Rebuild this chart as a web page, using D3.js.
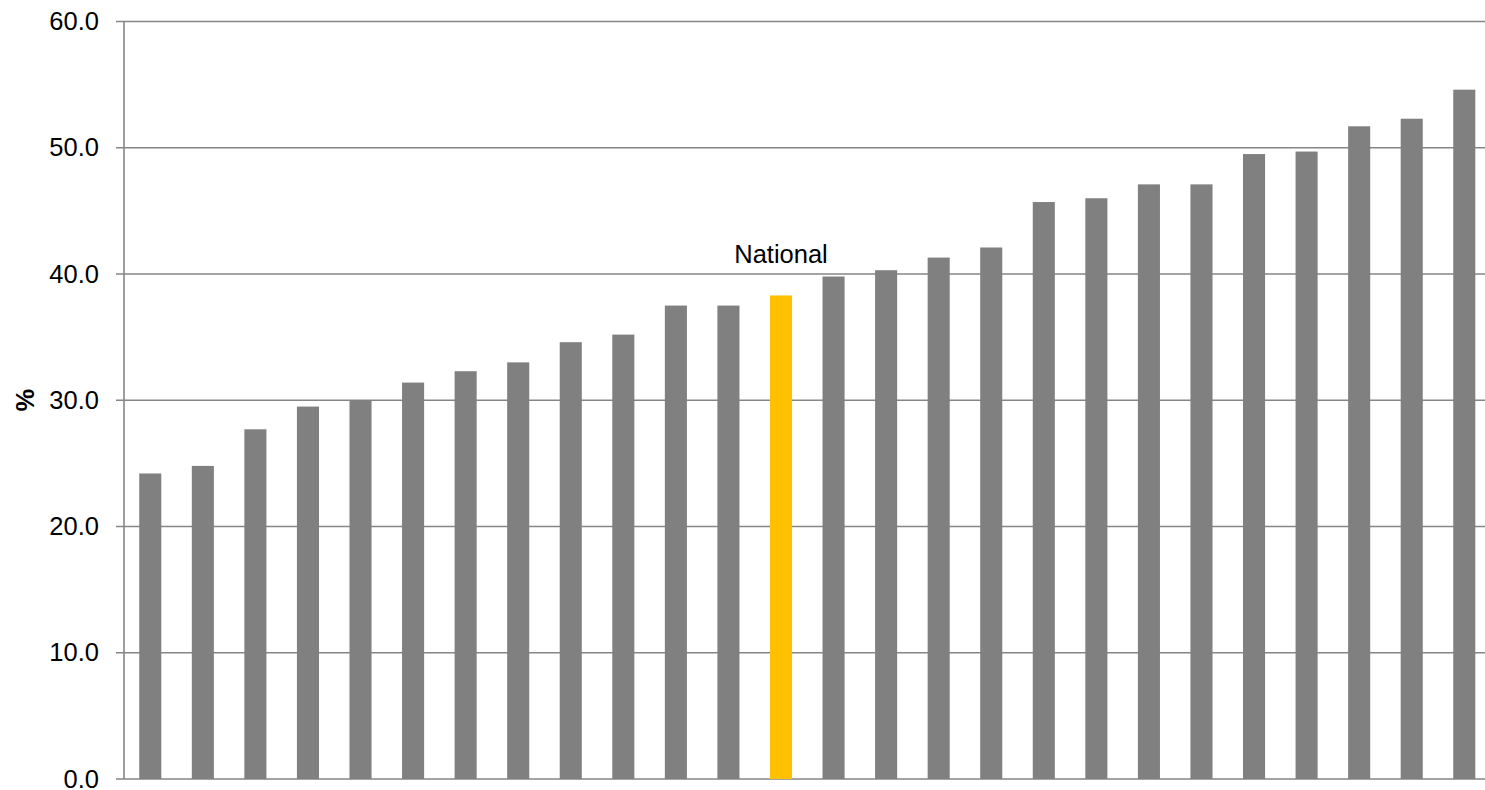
<!DOCTYPE html>
<html>
<head>
<meta charset="utf-8">
<script src="https://cdn.jsdelivr.net/npm/d3@7"></script>
<style>
  html, body { margin: 0; padding: 0; background: #fff; }
  svg { display: block; }
</style>
</head>
<body>
<svg id="chart" width="1485" height="790"></svg>
<script>
// Data
const categories = ["A1","A2","A3","A4","A5","A6","A7","A8","A9","A10","A11","A12","National",
                    "A14","A15","A16","A17","A18","A19","A20","A21","A22","A23","A24","A25","A26"];
const values = [24.2, 24.8, 27.7, 29.5, 30.0, 31.4, 32.3, 33.0, 34.6, 35.2, 37.5, 37.5, 38.3,
                39.8, 40.3, 41.3, 42.1, 45.7, 46.0, 47.1, 47.1, 49.5, 49.7, 51.7, 52.3, 54.6];
const highlightCategory = "National";
const yTicks = [0, 10, 20, 30, 40, 50, 60];
const yLabel = "%";

const data = categories.map((c, i) => ({ cat: c, value: values[i] }));

const svg = d3.select("#chart");
const W = 1485, H = 790;
const x0 = 124, step = 52.56, n = categories.length;
const yTop = 21.5, yBottom = 779;

const x = d3.scaleBand()
  .domain(categories)
  .range([x0, x0 + step * n])
  .paddingInner(0.58)
  .paddingOuter(0.29);

const y = d3.scaleLinear().domain([0, 60]).range([yBottom, yTop]);

const font = "Liberation Sans, Arial, sans-serif";
const gridColor = "#868686";

// Gridlines (with outward ticks)
svg.append("g")
  .selectAll("line")
  .data(yTicks)
  .join("line")
  .attr("x1", x0 - 8)
  .attr("x2", W)
  .attr("y1", d => y(d))
  .attr("y2", d => y(d))
  .attr("stroke", gridColor)
  .attr("stroke-width", 1.6);

// Left axis line
svg.append("line")
  .attr("x1", x0).attr("x2", x0)
  .attr("y1", yTop).attr("y2", yBottom)
  .attr("stroke", gridColor)
  .attr("stroke-width", 1.6);

// Tick labels via d3 axis
const yAxis = d3.axisLeft(y)
  .tickValues(yTicks)
  .tickFormat(d3.format(".1f"))
  .tickSize(0)
  .tickPadding(25);

const gAxis = svg.append("g")
  .attr("transform", `translate(${x0},0)`)
  .call(yAxis);
gAxis.select(".domain").remove();
gAxis.selectAll("text")
  .attr("font-family", font)
  .attr("font-size", 25.5)
  .attr("fill", "#000");

// Bars
svg.append("g")
  .selectAll("rect")
  .data(data)
  .join("rect")
  .attr("x", d => x(d.cat))
  .attr("width", x.bandwidth())
  .attr("y", d => y(d.value))
  .attr("height", d => y(0) - y(d.value))
  .attr("fill", d => d.cat === highlightCategory ? "#FFC000" : "#808080");

// National label
const nat = data.find(d => d.cat === highlightCategory);
svg.append("text")
  .attr("x", x(nat.cat) + x.bandwidth() / 2)
  .attr("y", 263)
  .attr("text-anchor", "middle")
  .attr("font-family", font)
  .attr("font-size", 25.5)
  .attr("fill", "#000")
  .text(highlightCategory);

// Y axis title
svg.append("text")
  .attr("transform", `translate(34, ${(yTop + yBottom) / 2}) rotate(-90)`)
  .attr("text-anchor", "middle")
  .attr("font-family", font)
  .attr("font-size", 25.5)
  .attr("font-weight", "bold")
  .attr("fill", "#000")
  .text(yLabel);
</script>
</body>
</html>
